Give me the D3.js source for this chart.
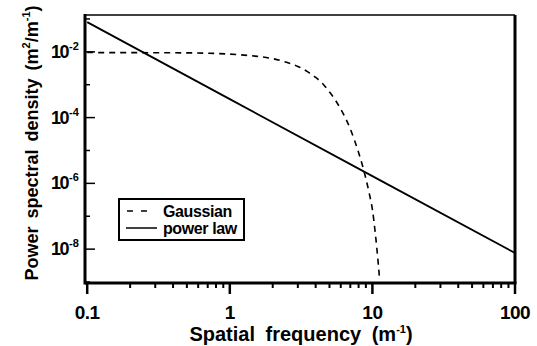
<!DOCTYPE html>
<html>
<head>
<meta charset="utf-8">
<script src="https://cdn.jsdelivr.net/npm/d3@7"></script>
<style>
  body { margin: 0; background: #fff; }
  text { font-family: "Liberation Sans", Arial, sans-serif; fill: #000; }
</style>
</head>
<body>
<div class="chart"></div>
<script>
var svgWidth = 537;
var svgHeight = 346;

var margin = { top: 15, right: 22, bottom: 63, left: 85 };
var width = svgWidth - margin.left - margin.right;
var height = svgHeight - margin.top - margin.bottom;

// Gaussian spectrum
var gaussFreq = [0.1, 0.5, 1, 1.5, 2, 2.5, 3, 3.5, 4, 4.5, 5, 5.5, 6, 6.5, 7, 7.5, 8, 8.5, 9, 9.5, 10, 10.5, 11, 11.2];
var gaussPsd = [9.5e-3, 9.3e-3, 8.5e-3, 7.4e-3, 6.2e-3, 4.8e-3, 3.6e-3, 2.5e-3, 1.66e-3, 1.05e-3, 6.0e-4, 3.4e-4,
  1.8e-4, 9.3e-5, 4.5e-5, 2.0e-5, 8.7e-6, 3.6e-6, 1.4e-6, 5.0e-7, 1.6e-7, 2.8e-8, 3.5e-9, 1.4e-9];

// power law spectrum (straight line on log-log)
var powerFreq = [0.1, 1, 10, 100];
var powerPsd = [8.0e-2, 3.65e-4, 1.66e-6, 7.6e-9];

var xTickValues = [0.1, 1, 10, 100];
var xTickLabels = ["0.1", "1", "10", "100"];
var yTickValues = [1e-2, 1e-4, 1e-6, 1e-8];
var yTickExps = ["-2", "-4", "-6", "-8"];

var svg = d3.select(".chart")
  .append("svg")
  .attr("width", svgWidth)
  .attr("height", svgHeight);

svg.append("rect")
  .attr("width", svgWidth)
  .attr("height", svgHeight)
  .attr("fill", "#fff");

var chartGroup = svg.append("g")
  .attr("transform", `translate(${margin.left}, ${margin.top})`);

var xScale = d3.scaleLog()
  .domain([0.0965, 100])
  .range([0, width]);

var yScale = d3.scaleLog()
  .domain([Math.pow(10, -9.03), Math.pow(10, -0.88)])
  .range([height, 0]);

// minor ticks 2..9 on x
var xMinor = [];
[0.1, 1, 10].forEach(function(d) {
  for (var i = 2; i <= 9; i++) xMinor.push(d * i);
});
var yMinor = [1e-1, 1e-3, 1e-5, 1e-7, 1e-9];

// x axis: ticks point outward
var xAxis = chartGroup.append("g")
  .attr("transform", `translate(0, ${height})`);

xAxis.selectAll(".minor")
  .data(xMinor)
  .enter()
  .append("line")
  .attr("x1", d => xScale(d))
  .attr("x2", d => xScale(d))
  .attr("y1", 0)
  .attr("y2", 5)
  .attr("stroke", "#000")
  .attr("stroke-width", 2);

xAxis.selectAll(".major")
  .data(xTickValues)
  .enter()
  .append("line")
  .attr("x1", d => xScale(d))
  .attr("x2", d => xScale(d))
  .attr("y1", 0)
  .attr("y2", 11)
  .attr("stroke", "#000")
  .attr("stroke-width", 2.5);

xAxis.selectAll("text")
  .data(xTickValues)
  .enter()
  .append("text")
  .attr("x", d => xScale(d))
  .attr("y", 36)
  .attr("text-anchor", "middle")
  .style("font-size", "19px")
  .style("font-weight", "bold")
  .style("letter-spacing", "-0.5px")
  .text((d, i) => xTickLabels[i]);

// y axis: ticks point inward
var yAxis = chartGroup.append("g");

yAxis.selectAll(".minor")
  .data(yMinor)
  .enter()
  .append("line")
  .attr("x1", 0)
  .attr("x2", 5)
  .attr("y1", d => yScale(d))
  .attr("y2", d => yScale(d))
  .attr("stroke", "#000")
  .attr("stroke-width", 1.5);

yAxis.selectAll(".major")
  .data(yTickValues)
  .enter()
  .append("line")
  .attr("x1", 0)
  .attr("x2", 10)
  .attr("y1", d => yScale(d))
  .attr("y2", d => yScale(d))
  .attr("stroke", "#000")
  .attr("stroke-width", 1.5);

var yLabels = yAxis.selectAll("text")
  .data(yTickValues)
  .enter()
  .append("text")
  .attr("x", -34)
  .attr("y", d => yScale(d) + 6)
  .style("font-size", "18px")
  .style("font-weight", "bold")
  .style("letter-spacing", "-1.5px");

yLabels.append("tspan").text("10");
yLabels.append("tspan")
  .attr("dx", 1)
  .attr("dy", -8)
  .style("font-size", "11px")
  .style("letter-spacing", "0px")
  .text((d, i) => yTickExps[i]);

// frame
chartGroup.append("line")
  .attr("x1", 0).attr("x2", width)
  .attr("y1", 0).attr("y2", 0)
  .attr("stroke", "#000").attr("stroke-width", 1.5);
chartGroup.append("line")
  .attr("x1", width).attr("x2", width)
  .attr("y1", 0).attr("y2", height)
  .attr("stroke", "#000").attr("stroke-width", 3);
chartGroup.append("line")
  .attr("x1", 0).attr("x2", 0)
  .attr("y1", -1).attr("y2", height + 1.5)
  .attr("stroke", "#000").attr("stroke-width", 3);
chartGroup.append("line")
  .attr("x1", 0).attr("x2", width + 1.5)
  .attr("y1", height).attr("y2", height)
  .attr("stroke", "#000").attr("stroke-width", 3);

// curves
var line = d3.line()
  .x(d => xScale(d[0]))
  .y(d => yScale(d[1]))
  .curve(d3.curveMonotoneX);

var gaussData = gaussFreq.map((f, i) => [f, gaussPsd[i]]);
var powerData = powerFreq.map((f, i) => [f, powerPsd[i]]);

chartGroup.append("path")
  .datum(powerData)
  .attr("d", d3.line().x(d => xScale(d[0])).y(d => yScale(d[1])))
  .attr("fill", "none")
  .attr("stroke", "#000")
  .attr("stroke-width", 1.8);

chartGroup.append("path")
  .datum(gaussData)
  .attr("d", line)
  .attr("fill", "none")
  .attr("stroke", "#000")
  .attr("stroke-width", 1.6)
  .attr("stroke-dasharray", "6,5");

// legend
var legend = svg.append("g")
  .attr("transform", "translate(119, 199)");

legend.append("rect")
  .attr("width", 125)
  .attr("height", 41)
  .attr("fill", "#fff")
  .attr("stroke", "#000")
  .attr("stroke-width", 2);

legend.append("line")
  .attr("x1", 8).attr("x2", 32)
  .attr("y1", 12).attr("y2", 12)
  .attr("stroke", "#000")
  .attr("stroke-width", 1.6)
  .attr("stroke-dasharray", "6,8");

legend.append("line")
  .attr("x1", 7).attr("x2", 38)
  .attr("y1", 29).attr("y2", 29)
  .attr("stroke", "#000")
  .attr("stroke-width", 1.5);

legend.append("text")
  .attr("x", 44)
  .attr("y", 18)
  .style("font-size", "16px")
  .style("font-weight", "bold")
  .style("letter-spacing", "-0.4px")
  .text("Gaussian");

legend.append("text")
  .attr("x", 44)
  .attr("y", 35)
  .style("font-size", "16px")
  .style("font-weight", "bold")
  .style("letter-spacing", "-0.4px")
  .text("power law");

// axis titles
var xTitle = svg.append("text")
  .attr("x", 301)
  .attr("y", 341)
  .attr("text-anchor", "middle")
  .style("font-size", "20px")
  .style("font-weight", "bold")
  .style("word-spacing", "5px");
xTitle.append("tspan").text("Spatial frequency (m");
xTitle.append("tspan").attr("dy", -8).style("font-size", "11px").text("-1");
xTitle.append("tspan").attr("dy", 8).text(")");

var yTitle = svg.append("text")
  .attr("transform", "translate(38, 143) rotate(-90)")
  .attr("text-anchor", "middle")
  .style("font-size", "18px")
  .style("font-weight", "bold")
  .style("word-spacing", "3px");
yTitle.append("tspan").text("Power spectral density (m");
yTitle.append("tspan").attr("dy", -8).style("font-size", "11px").text("2");
yTitle.append("tspan").attr("dy", 8).text("/m");
yTitle.append("tspan").attr("dy", -8).style("font-size", "11px").text("-1");
yTitle.append("tspan").attr("dy", 8).text(")");
</script>
</body>
</html>
